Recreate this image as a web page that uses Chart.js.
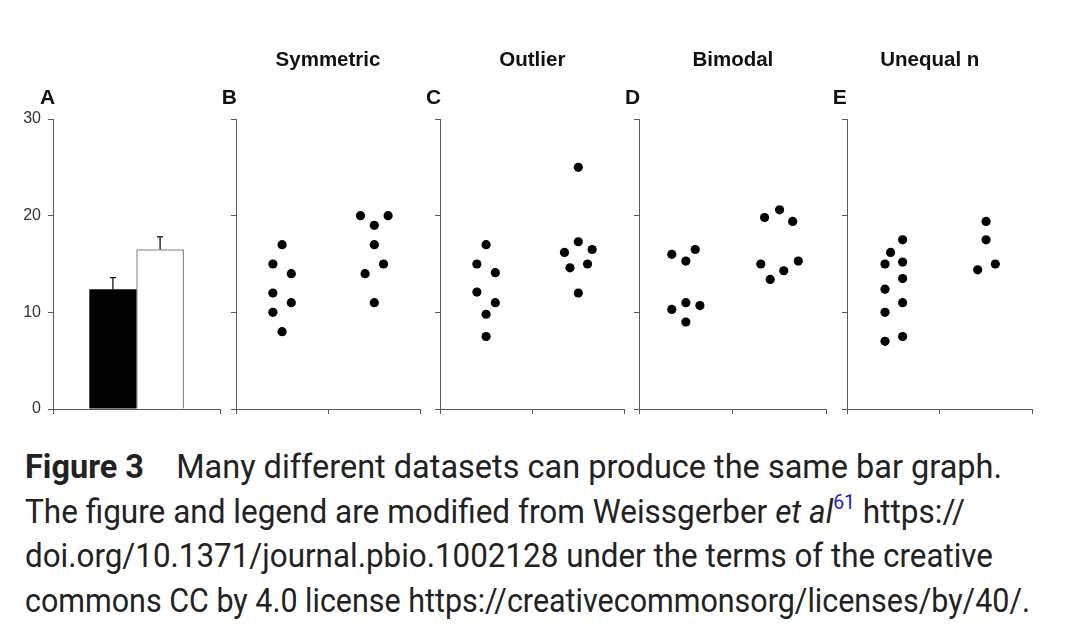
<!DOCTYPE html>
<html>
<head>
<meta charset="utf-8">
<script src="https://cdn.jsdelivr.net/npm/chart.js@4.4.1/dist/chart.umd.min.js"></script>
<style>
  body { margin: 0; background: #fff; }
  #fig { position: relative; width: 1074px; height: 638px; overflow: hidden; font-family: "Liberation Sans", Arial, sans-serif; }
  canvas { position: absolute; }
  .letter { position: absolute; font-weight: bold; font-size: 21px; color: #111; line-height: 1; }
  .title { position: absolute; font-weight: bold; font-size: 20.5px; color: #111; line-height: 1; transform: translateX(-50%); white-space: nowrap; }
  .cap { position: absolute; left: 25px; font-family: Roboto, "Noto Sans", sans-serif; font-size: 34px; color: #222; white-space: nowrap; line-height: 1; transform-origin: 0 0; }
  .cap b { font-weight: bold; }
  .cap sup { color: #1a1ad6; font-size: 21px; vertical-align: 0; position: relative; top: -14px; }
</style>
</head>
<body>
<div id="fig"></div>
<script>
// ---- data ----
const groups = ['Group 1', 'Group 2'];
const yTicks = [0, 10, 20, 30];

// panel A: bar graph (mean + error)
const barMeans = [12.4, 16.5];
const barErrors = [1.2, 1.3];

// dot plots: values and horizontal jitter (x = group index + 0.5 + jitter)
const symLeft = [17, 15, 14, 12, 11, 10, 8];
const symLeftJit = [0, -0.1, 0.1, -0.1, 0.1, -0.1, 0];
const symRight = [20, 20, 19, 17, 15, 14, 11];
const symRightJit = [-0.15, 0.15, 0, 0, 0.1, -0.1, 0];

const outLeft = [17, 15, 14.1, 12.1, 11, 9.8, 7.5];
const outLeftJit = [0, -0.1, 0.1, -0.1, 0.1, 0, 0];
const outRight = [25, 17.3, 16.5, 16.2, 15, 14.6, 12];
const outRightJit = [0, 0, 0.15, -0.15, 0.1, -0.09, 0];

const bimLeft = [16.0, 16.5, 15.3, 11.0, 10.7, 10.3, 9.0];
const bimLeftJit = [-0.15, 0.1, 0, 0, 0.15, -0.15, 0];
const bimRight = [20.6, 19.8, 19.4, 15.0, 15.3, 14.3, 13.4];
const bimRightJit = [0, -0.16, 0.14, -0.2, 0.2, 0.045, -0.1];

const uneLeft = [17.5, 16.2, 15.0, 15.2, 13.5, 12.4, 11.0, 10.0, 7.5, 7.0];
const uneLeftJit = [0.1, -0.03, -0.09, 0.1, 0.1, -0.09, 0.1, -0.09, 0.1, -0.09];
const uneRight = [19.4, 17.5, 15.0, 14.4];
const uneRightJit = [0, 0, 0.1, -0.09];

const panels = [
  { letter: 'B', title: 'Symmetric', left: symLeft, leftJit: symLeftJit, right: symRight, rightJit: symRightJit, x0: 235.7, x1: 420.3 },
  { letter: 'C', title: 'Outlier', left: outLeft, leftJit: outLeftJit, right: outRight, rightJit: outRightJit, x0: 440, x1: 624.7 },
  { letter: 'D', title: 'Bimodal', left: bimLeft, leftJit: bimLeftJit, right: bimRight, rightJit: bimRightJit, x0: 639, x1: 826.7 },
  { letter: 'E', title: 'Unequal n', left: uneLeft, leftJit: uneLeftJit, right: uneRight, rightJit: uneRightJit, x0: 846.7, x1: 1033 }
];

// ---- layout ----
const fig = document.getElementById('fig');
const AXIS = '#5a5a5a';
const TOP = 119, BOTTOM = 408.5;
const PAD_TOP = 22, PAD_RIGHT = 4, X_H = 22;

function makeCanvas(x0, x1, yW) {
  const c = document.createElement('canvas');
  const w = Math.round(yW + (x1 - x0) + PAD_RIGHT);
  const h = Math.round(PAD_TOP + (BOTTOM - TOP) + X_H);
  c.width = w; c.height = h;
  c.style.width = w + 'px'; c.style.height = h + 'px';
  c.style.left = Math.round(x0 - yW) + 'px';
  c.style.top = (TOP - PAD_TOP) + 'px';
  fig.appendChild(c);
  return c;
}

function addText(cls, txt, x, y) {
  const d = document.createElement('div');
  d.className = cls;
  d.textContent = txt;
  d.style.left = x + 'px';
  d.style.top = y + 'px';
  fig.appendChild(d);
}

function yScale(showLabels, width) {
  return {
    min: 0, max: 30,
    afterBuildTicks: s => { s.ticks = yTicks.map(v => ({ value: v })); },
    afterFit: s => { s.width = width; },
    ticks: { display: showLabels, color: '#333', font: { family: 'Liberation Sans', size: 16 }, padding: 7 },
    grid: { drawOnChartArea: false, color: AXIS, tickLength: 5, lineWidth: 1 },
    border: { color: AXIS, width: 1 }
  };
}

const baseOpts = {
  responsive: false,
  animation: false,
  devicePixelRatio: 1,
  layout: { padding: { top: PAD_TOP, right: PAD_RIGHT, left: 0, bottom: 0 } },
  plugins: { legend: { display: false }, tooltip: { enabled: false } }
};

// error bars on top of the bars
const errorBars = {
  id: 'errorBars',
  afterDatasetsDraw(chart) {
    const ctx = chart.ctx;
    const ys = chart.scales.y;
    ctx.save();
    ctx.strokeStyle = '#000';
    ctx.lineWidth = 1.2;
    chart.data.datasets.forEach((ds, i) => {
      const bar = chart.getDatasetMeta(i).data[0];
      const top = ys.getPixelForValue(barMeans[i] + barErrors[i]);
      ctx.beginPath();
      ctx.moveTo(bar.x, bar.y);
      ctx.lineTo(bar.x, top);
      ctx.moveTo(bar.x - 3, top);
      ctx.lineTo(bar.x + 3, top);
      ctx.stroke();
    });
    ctx.restore();
  }
};

// panel A
new Chart(makeCanvas(53.3, 220, 45), {
  type: 'bar',
  data: {
    labels: [''],
    datasets: groups.map((g, i) => ({
      label: g,
      data: [barMeans[i]],
      backgroundColor: i === 0 ? '#000' : '#fff',
      borderColor: '#000',
      borderWidth: i === 0 ? 0 : 1,
      borderSkipped: 'bottom',
      categoryPercentage: 0.565,
      barPercentage: 1
    }))
  },
  options: Object.assign({}, baseOpts, {
    scales: {
      x: {
        ticks: { display: false },
        afterFit: s => { s.height = X_H; },
        grid: { drawOnChartArea: false, offset: true, color: AXIS, tickLength: 5 },
        border: { color: AXIS, width: 1 }
      },
      y: yScale(true, 45)
    }
  }),
  plugins: [errorBars]
});
addText('letter', 'A', 40, 86);

// panels B-E
panels.forEach(p => {
  const pts = (vals, jit, g) => vals.map((v, k) => ({ x: g + 0.5 + jit[k], y: v }));
  new Chart(makeCanvas(p.x0, p.x1, 8), {
    type: 'scatter',
    data: {
      datasets: [
        { label: groups[0], data: pts(p.left, p.leftJit, 0) },
        { label: groups[1], data: pts(p.right, p.rightJit, 1) }
      ].map(d => Object.assign(d, { pointRadius: 4.6, pointBackgroundColor: '#000', pointBorderWidth: 0 }))
    },
    options: Object.assign({}, baseOpts, {
      scales: {
        x: {
          type: 'linear', min: 0, max: 2,
          ticks: { display: false, stepSize: 1 },
          afterFit: s => { s.height = X_H; },
          grid: { drawOnChartArea: false, color: AXIS, tickLength: 5 },
          border: { color: AXIS, width: 1 }
        },
        y: yScale(false, 8)
      }
    })
  });
  addText('letter', p.letter, p.x0 - 14, 86);
  addText('title', p.title, (p.x0 + p.x1) / 2 - (p.letter === 'E' ? 10 : 0), 49);
});

// caption
const capLines = [
  { html: '<b>Figure 3</b>&nbsp;&nbsp;&nbsp; Many different datasets can produce the same bar graph.', top: 449, right: 1002 },
  { html: 'The figure and legend are modified from Weissgerber <i>et al</i><sup>61</sup> https://', top: 494, right: 965 },
  { html: 'doi.org/10.1371/journal.pbio.1002128 under the terms of the creative', top: 538, right: 993 },
  { html: 'commons CC by 4.0 license https://creativecommonsorg/licenses/by/40/.', top: 583, right: 1030 }
];
capLines.forEach(l => {
  const d = document.createElement('div');
  d.className = 'cap';
  d.innerHTML = l.html;
  d.style.top = l.top + 'px';
  fig.appendChild(d);
  const w = d.getBoundingClientRect().width;
  d.style.transform = 'scaleX(' + ((l.right - 25) / w) + ')';
});
</script>
</body>
</html>
